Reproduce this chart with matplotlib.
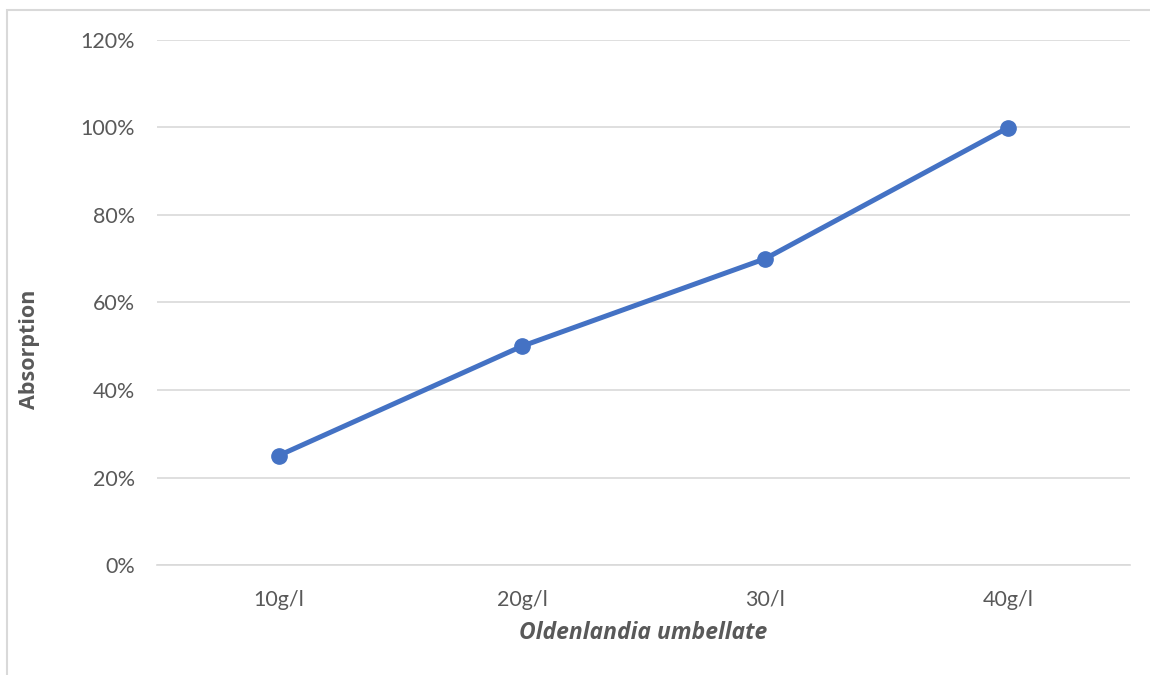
import matplotlib
matplotlib.use("Agg")
import matplotlib.pyplot as plt
from matplotlib.ticker import FuncFormatter, MultipleLocator
from matplotlib.patches import Rectangle

categories = ["10g/l", "20g/l", "30/l", "40g/l"]
absorption = [0.25, 0.50, 0.70, 1.00]

plt.rcParams['font.family'] = ['Lato', 'DejaVu Sans']

fig = plt.figure(figsize=(11.5, 6.75), dpi=100)
ax = fig.add_axes([157 / 1150, 1 - 565 / 675, (1130 - 157) / 1150, (565 - 40) / 675])

x = list(range(len(categories)))
ax.plot(x, absorption, color="#4472C4", linewidth=3.6, marker="o",
        markersize=11, markerfacecolor="#4472C4", markeredgecolor="#4472C4",
        solid_capstyle="round", zorder=3)

ax.set_xlim(-0.5, len(categories) - 0.5)
ax.set_ylim(0, 1.2)
ax.yaxis.set_major_locator(MultipleLocator(0.2))
ax.yaxis.set_major_formatter(FuncFormatter(lambda v, _: f"{v * 100:.0f}%"))
ax.set_xticks(x)
ax.set_xticklabels(categories)

ax.grid(axis="y", color="#D9D9D9", linewidth=1.2)
ax.set_axisbelow(True)
for side in ["top", "right", "left"]:
    ax.spines[side].set_visible(False)
ax.spines["bottom"].set_color("#D9D9D9")
ax.spines["bottom"].set_linewidth(1.2)

ax.tick_params(axis="both", length=0, labelsize=15.5, colors="#595959")
ax.tick_params(axis="y", pad=16)
ax.tick_params(axis="x", pad=18)

label_font = ['Open Sans', 'DejaVu Sans']
fig.text(30 / 1150, 1 - 349 / 675, "Absorption", rotation=90, ha="center", va="center",
         fontsize=15.5, fontweight="bold", color="#595959", family=label_font)
fig.text(643 / 1150, 1 - 633 / 675, "Oldenlandia umbellate", ha="center", va="center",
         fontsize=16.5, fontweight="bold", fontstyle="italic", color="#595959",
         family=label_font)

# chart frame
fig.patches.append(Rectangle((7 / 1150, -0.1), 1.2, 1 - 10 / 675 + 0.1,
                             transform=fig.transFigure, fill=False,
                             edgecolor="#D9D9D9", linewidth=1.5))

fig.savefig("out.png", dpi=100)
